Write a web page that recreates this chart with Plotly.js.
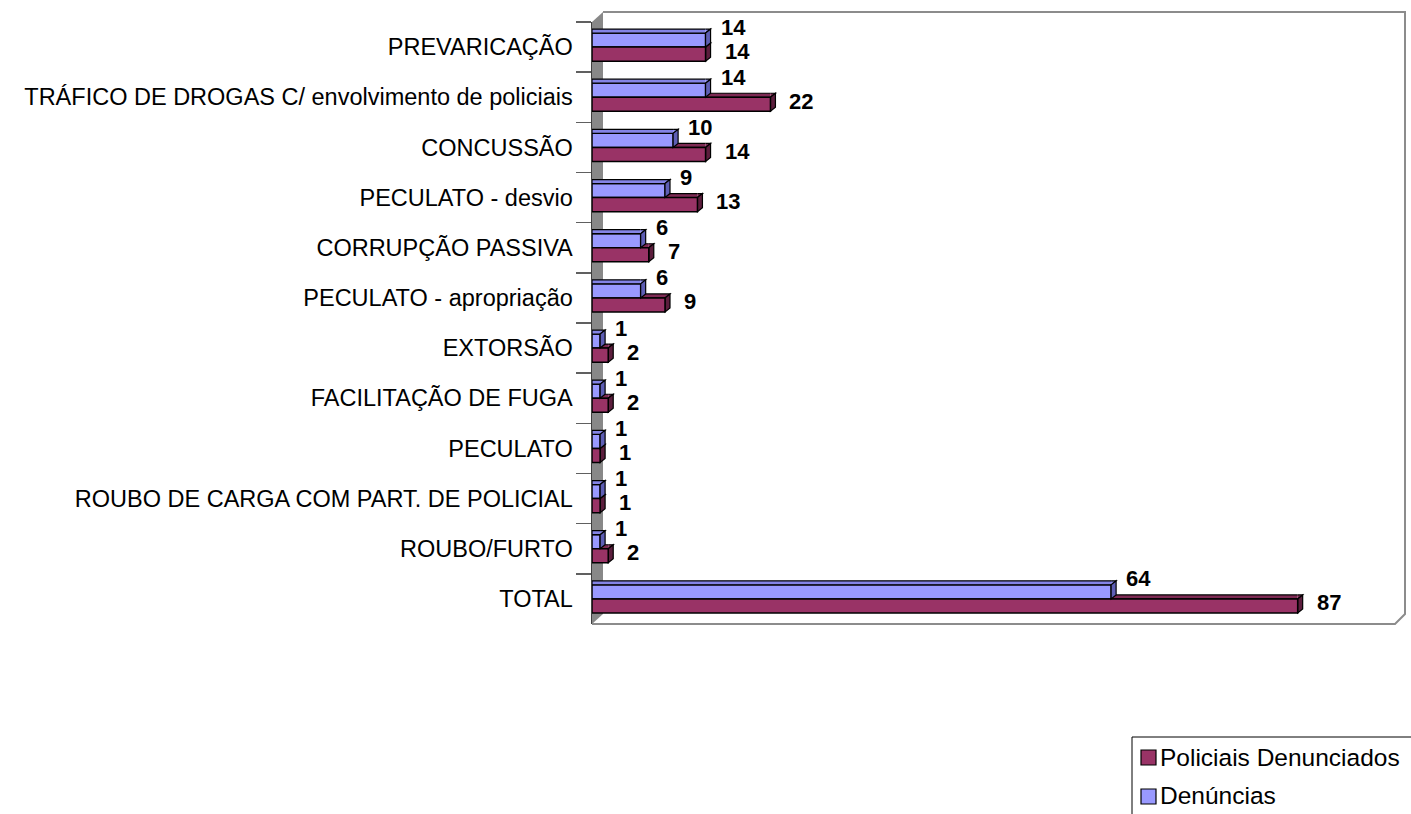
<!DOCTYPE html>
<html>
<head>
<meta charset="utf-8">
<script src="https://cdn.plot.ly/plotly-3.0.1.min.js"></script>
<style>html,body{margin:0;padding:0;background:#fff;}#chart{width:1411px;height:814px;}</style>
</head>
<body>
<div id="chart"></div>
<script>
// ---- data ----
const categories = [
  'PREVARICAÇÃO',
  'TRÁFICO DE DROGAS C/ envolvimento de policiais',
  'CONCUSSÃO',
  'PECULATO - desvio',
  'CORRUPÇÃO PASSIVA',
  'PECULATO - apropriação',
  'EXTORSÃO',
  'FACILITAÇÃO DE FUGA',
  'PECULATO',
  'ROUBO DE CARGA COM PART. DE POLICIAL',
  'ROUBO/FURTO',
  'TOTAL'
];
const denuncias = [14, 14, 10, 9, 6, 6, 1, 1, 1, 1, 1, 64];
const policiais = [14, 22, 14, 13, 7, 9, 2, 2, 1, 1, 2, 87];
const seriesNames = ['Denúncias', 'Policiais Denunciados'];

// ---- style ----
const W = 1411, H = 814;
const M = {l: 592, r: 16, t: 22, b: 190};
const plotW = W - M.l - M.r, plotH = H - M.t - M.b;
const BLUE = '#9999FF', BLUE_TOP = '#8484E6', BLUE_SIDE = '#5E5EB4';
const RED = '#993366', RED_TOP = '#7E2A54', RED_SIDE = '#5C1E3D';
const BARGAP = 0.44;
const halfW = (1 - BARGAP) / 2;           // width of one bar in category units
const barPx = plotH / categories.length * halfW;
const DX = 5, DY = 4;                     // 3D depth of the bars (px)
const FONT = 'Liberation Sans, Arial, sans-serif';

const idx = categories.map((c, i) => i);

const traces = [
  {type: 'bar', orientation: 'h', name: seriesNames[0], y: categories, x: denuncias,
   marker: {color: BLUE, line: {color: '#000', width: 1.5}}, hoverinfo: 'skip'},
  {type: 'bar', orientation: 'h', name: seriesNames[1], y: categories, x: policiais,
   marker: {color: RED, line: {color: '#000', width: 1.5}}, hoverinfo: 'skip'}
];

function barShapes(vals, offTop, topC, sideC, layer) {
  const out = [];
  vals.forEach((v, i) => {
    const yTop = i + offTop;
    out.push({type: 'path', xref: 'x', yref: 'y', ysizemode: 'pixel', yanchor: yTop, layer,
      path: `M${v},0 L0,0 L0,${DY} L${v},${DY}`, fillcolor: topC, line: {color: '#000', width: 1.2}});
    out.push({type: 'path', xref: 'x', yref: 'y', xsizemode: 'pixel', xanchor: v,
      ysizemode: 'pixel', yanchor: yTop, layer,
      path: `M0,${DY} L${DX},${DY} L0,0`, fillcolor: topC, line: {color: '#000', width: 1.2}});
    out.push({type: 'path', xref: 'x', yref: 'y', xsizemode: 'pixel', xanchor: v,
      ysizemode: 'pixel', yanchor: yTop, layer,
      path: `M0,0 L${DX},${DY} L${DX},${DY - barPx} L0,${-barPx} Z`, fillcolor: sideC,
      line: {color: '#000', width: 1.2}});
  });
  return out;
}

// paper helpers (pixel -> paper fraction)
const px = x => (x - M.l) / plotW;
const py = y => (H - M.b - y) / plotH;

const frameShapes = [
  // left wall
  {type: 'path', xref: 'paper', yref: 'paper', xsizemode: 'pixel', xanchor: 0, ysizemode: 'pixel', yanchor: 0,
   layer: 'below', path: `M0,0 L11,10 L11,${plotH + 10} L0,${plotH} Z`, fillcolor: '#888888', line: {width: 0}},
  // back wall top + right edge + floor
  {type: 'path', xref: 'paper', yref: 'paper', xsizemode: 'pixel', xanchor: 0, ysizemode: 'pixel', yanchor: 0,
   layer: 'below', path: `M11,${plotH + 10} L${plotW + 10},${plotH + 10} L${plotW + 10},10 L${plotW},0 L0,0`,
   line: {color: '#8C8C8C', width: 2}},
  // legend box
  {type: 'path', xref: 'paper', yref: 'paper', path: `M${px(1132)},${py(816)} L${px(1132)},${py(737)} L${px(1413)},${py(737)}`,
   line: {color: '#000', width: 1}},
  {type: 'rect', xref: 'paper', yref: 'paper', x0: px(1141), x1: px(1156), y0: py(750), y1: py(765),
   fillcolor: RED, line: {color: '#000', width: 1.2}},
  {type: 'rect', xref: 'paper', yref: 'paper', x0: px(1141), x1: px(1156), y0: py(789), y1: py(804),
   fillcolor: BLUE, line: {color: '#000', width: 1.2}}
];

const shapes = frameShapes
  .concat(barShapes(policiais, 0, RED_TOP, RED_SIDE, 'below'))
  .concat(barShapes(denuncias, -halfW, BLUE_TOP, BLUE_SIDE, 'above'));

const labelFont = {family: FONT, size: 22, color: '#000', weight: 'bold'};
const annotations = [];
idx.forEach(i => {
  annotations.push({x: denuncias[i], y: i - halfW / 2, xref: 'x', yref: 'y', text: '<b>' + denuncias[i] + '</b>',
    showarrow: false, xanchor: 'left', yanchor: 'middle', xshift: 13, yshift: 13, font: labelFont});
  annotations.push({x: policiais[i], y: i + halfW / 2, xref: 'x', yref: 'y', text: '<b>' + policiais[i] + '</b>',
    showarrow: false, xanchor: 'left', yanchor: 'middle', xshift: 17, yshift: 3, font: labelFont});
});
annotations.push({x: px(1158), y: py(757), xref: 'paper', yref: 'paper', text: seriesNames[1], showarrow: false,
  xanchor: 'left', yanchor: 'middle', font: {family: FONT, size: 24.5, color: '#000'}});
annotations.push({x: px(1158), y: py(796), xref: 'paper', yref: 'paper', text: seriesNames[0], showarrow: false,
  xanchor: 'left', yanchor: 'middle', font: {family: FONT, size: 24.5, color: '#000'}});

const layout = {
  width: W, height: H,
  margin: M,
  paper_bgcolor: '#fff', plot_bgcolor: 'rgba(0,0,0,0)',
  showlegend: false,
  barmode: 'group', bargap: BARGAP, bargroupgap: 0,
  font: {family: FONT, color: '#000'},
  xaxis: {range: [0, 99], showgrid: false, zeroline: false, showline: false, showticklabels: false,
          ticks: '', fixedrange: true},
  yaxis: {type: 'category', range: [categories.length - 0.5, -0.5], showgrid: false, zeroline: false,
          showline: true, linecolor: '#404040', linewidth: 1.5,
          ticks: 'outside', tickson: 'boundaries', ticklen: 15, tickcolor: '#606060', tickwidth: 1.5,
          ticklabelstandoff: 13,
          tickfont: {family: FONT, size: 23.5, color: '#000'}, fixedrange: true},
  shapes, annotations
};

Plotly.newPlot('chart', traces, layout, {displayModeBar: false, staticPlot: true});
</script>
</body>
</html>
